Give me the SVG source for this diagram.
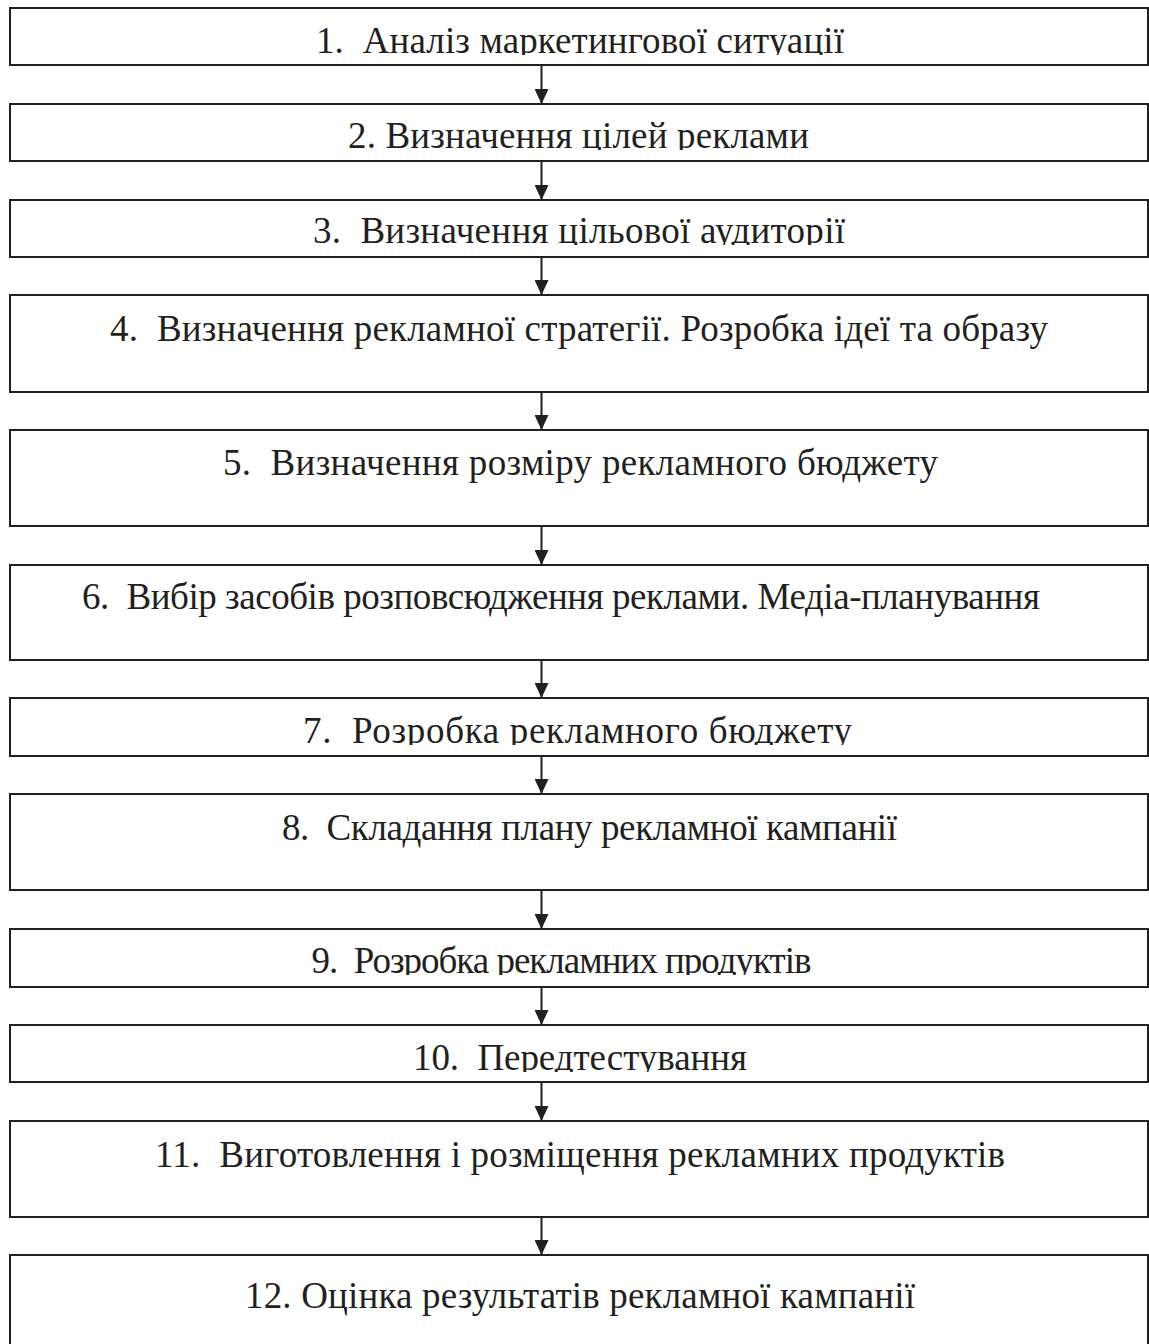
<svg xmlns="http://www.w3.org/2000/svg" width="1149" height="1344" viewBox="0 0 1149 1344">
<style>
.box{fill:#fff;stroke:#231f20;stroke-width:2}
.t{font-family:"Liberation Serif","Times New Roman",serif;font-size:37px;fill:#231f20;white-space:pre}
.c{stroke:#231f20;stroke-width:2;fill:none}
</style>
<defs>
<marker id="ah" viewBox="0 0 15 14" refX="15" refY="7" markerWidth="15" markerHeight="14" markerUnits="userSpaceOnUse" orient="auto">
<path d="M0,0 L15,7 L0,14 Z" fill="#231f20"/>
</marker>
<clipPath id="k1"><rect x="10" y="8" width="1138" height="47"/></clipPath>
<clipPath id="k2"><rect x="10" y="104" width="1138" height="46"/></clipPath>
<clipPath id="k3"><rect x="10" y="200" width="1138" height="45"/></clipPath>
<clipPath id="k7"><rect x="10" y="698" width="1138" height="47"/></clipPath>
<clipPath id="k9"><rect x="10" y="929" width="1138" height="46"/></clipPath>
<clipPath id="k10"><rect x="10" y="1025" width="1138" height="47"/></clipPath>
</defs>
<g id="n1"><rect class="box" x="10" y="8" width="1138" height="57"/><text class="t" x="316" y="52.5" textLength="528" lengthAdjust="spacing" clip-path="url(#k1)">1.  Аналіз маркетингової ситуації</text></g>
<g id="n2"><rect class="box" x="10" y="104" width="1138" height="57"/><text class="t" x="348" y="148" textLength="461" lengthAdjust="spacing" clip-path="url(#k2)">2. Визначення цілей реклами</text></g>
<g id="n3"><rect class="box" x="10" y="200" width="1138" height="57"/><text class="t" x="313" y="243" textLength="532" lengthAdjust="spacing" clip-path="url(#k3)">3.  Визначення цільової аудиторії</text></g>
<g id="n4"><rect class="box" x="10" y="295" width="1138" height="97"/><text class="t" x="110" y="341" textLength="938" lengthAdjust="spacing">4.  Визначення рекламної стратегії. Розробка ідеї та образу</text></g>
<g id="n5"><rect class="box" x="10" y="430" width="1138" height="96"/><text class="t" x="223" y="475" textLength="715" lengthAdjust="spacing">5.  Визначення розміру рекламного бюджету</text></g>
<g id="n6"><rect class="box" x="10" y="565" width="1138" height="95"/><text class="t" x="82" y="609" textLength="958" lengthAdjust="spacing">6.  Вибір засобів розповсюдження реклами. Медіа-планування</text></g>
<g id="n7"><rect class="box" x="10" y="698" width="1138" height="58"/><text class="t" x="303" y="743" textLength="549" lengthAdjust="spacing" clip-path="url(#k7)">7.  Розробка рекламного бюджету</text></g>
<g id="n8"><rect class="box" x="10" y="794" width="1138" height="96"/><text class="t" x="282" y="840" textLength="615" lengthAdjust="spacing">8.  Складання плану рекламної кампанії</text></g>
<g id="n9"><rect class="box" x="10" y="929" width="1138" height="58"/><text class="t" x="311.5" y="973" textLength="500" lengthAdjust="spacing" clip-path="url(#k9)">9.  Розробка рекламних продуктів</text></g>
<g id="n10"><rect class="box" x="10" y="1025" width="1138" height="57"/><text class="t" x="413" y="1070" textLength="334" lengthAdjust="spacing" clip-path="url(#k10)">10.  Передтестування</text></g>
<g id="n11"><rect class="box" x="10" y="1121" width="1138" height="96"/><text class="t" x="155" y="1167" textLength="850" lengthAdjust="spacing">11.  Виготовлення і розміщення рекламних продуктів</text></g>
<g id="n12"><rect class="box" x="10" y="1255" width="1138" height="110"/><text class="t" x="245" y="1308" textLength="670" lengthAdjust="spacing">12. Оцінка результатів рекламної кампанії</text></g>
<g id="connectors">
<line class="c" x1="541.5" y1="65" x2="541.5" y2="104" marker-end="url(#ah)"/>
<line class="c" x1="541.5" y1="161" x2="541.5" y2="200" marker-end="url(#ah)"/>
<line class="c" x1="541.5" y1="257" x2="541.5" y2="295" marker-end="url(#ah)"/>
<line class="c" x1="541.5" y1="392" x2="541.5" y2="430" marker-end="url(#ah)"/>
<line class="c" x1="541.5" y1="526" x2="541.5" y2="565" marker-end="url(#ah)"/>
<line class="c" x1="541.5" y1="660" x2="541.5" y2="698" marker-end="url(#ah)"/>
<line class="c" x1="541.5" y1="756" x2="541.5" y2="794" marker-end="url(#ah)"/>
<line class="c" x1="541.5" y1="890" x2="541.5" y2="929" marker-end="url(#ah)"/>
<line class="c" x1="541.5" y1="987" x2="541.5" y2="1025" marker-end="url(#ah)"/>
<line class="c" x1="541.5" y1="1082" x2="541.5" y2="1121" marker-end="url(#ah)"/>
<line class="c" x1="541.5" y1="1217" x2="541.5" y2="1255" marker-end="url(#ah)"/>
</g>
</svg>
